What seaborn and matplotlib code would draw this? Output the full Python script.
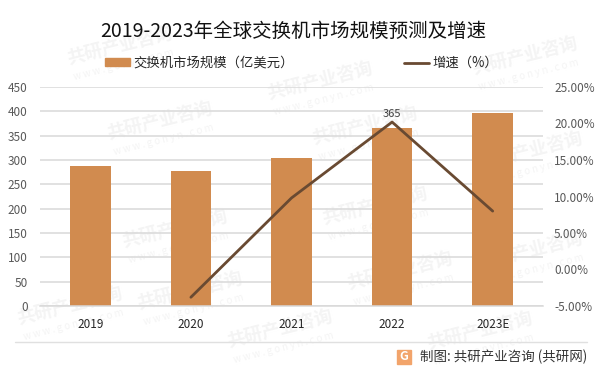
# -*- coding: utf-8 -*-
import pandas as pd
import matplotlib
matplotlib.use('Agg')
import matplotlib.pyplot as plt
from matplotlib.lines import Line2D
from matplotlib.patches import Patch, Rectangle
import seaborn as sns

years = ['2019', '2020', '2021', '2022', '2023E']
market_size = [287, 277, 304, 365, 396]
growth = [None, -3.8, 9.8, 20.2, 8.0]
left_ticks = [0, 50, 100, 150, 200, 250, 300, 350, 400, 450]
right_ticks = [-5, 0, 5, 10, 15, 20, 25]

title = '2019-2023年全球交换机市场规模预测及增速'
bar_label = '交换机市场规模（亿美元）'
line_label = '增速（%）'
source = '制图: 共研产业咨询 (共研网)'

sns.set_theme(style='white')
plt.rcParams['font.family'] = ['Noto Sans CJK SC', 'DejaVu Sans']

W, H = 600, 373
BAR_COLOR = '#D18B4F'
LINE_COLOR = '#694A32'
GRID_COLOR = '#D9D9D9'
MARK_COLOR = '#F4F4F4'

df = pd.DataFrame({'year': years, 'size': market_size, 'growth': growth})
df['pos'] = df.index

fig = plt.figure(figsize=(W / 100, H / 100), dpi=100, facecolor='white')


# pixel coords from the top left corner -> figure fraction
def px(x, y):
    return x / W, 1 - y / H


# watermark first so it sits below the chart
for x, y in [(120, 45), (320, 80), (525, 55), (160, 120), (365, 125),
             (530, 150), (175, 228), (375, 205), (530, 250), (70, 305),
             (190, 290), (400, 270), (280, 328), (480, 330)]:
    fig.text(*px(x, y), '共研产业咨询', fontsize=13, fontweight='bold', color=MARK_COLOR,
             rotation=14, ha='center', va='center', zorder=-1)
    fig.text(*px(x + 4, y + 20), 'w w w . g o n y n . c o m', fontsize=7, color=MARK_COLOR,
             rotation=14, ha='center', va='center', zorder=-1)

ax = fig.add_axes([40 / W, 1 - 306 / H, 503 / W, 219 / H])
ax.patch.set_alpha(0)

sns.barplot(data=df, x='pos', y='size', color=BAR_COLOR, saturation=1, width=0.405,
            linewidth=0, ax=ax, zorder=2)
ax.set_xlim(-0.5, 4.5)
ax.set_ylim(0, 450)
ax.set_yticks(left_ticks)
ax.set_xticks(df['pos'])
ax.set_xticklabels(years)
ax.set_xlabel('')
ax.set_ylabel('')
ax.yaxis.grid(True, color=GRID_COLOR, linewidth=1.1)
ax.set_axisbelow(True)
ax.tick_params(axis='y', length=0, pad=9, labelsize=8.5, labelcolor='#595959')
ax.tick_params(axis='x', length=0, pad=9, labelsize=8.5, labelcolor='#262626')
for s in ['top', 'left', 'right']:
    ax.spines[s].set_visible(False)
ax.spines['bottom'].set_color(GRID_COLOR)
ax.spines['bottom'].set_linewidth(1.1)

ax2 = ax.twinx()
ax2.patch.set_alpha(0)
sns.lineplot(data=df.dropna(subset=['growth']), x='pos', y='growth', color=LINE_COLOR,
             linewidth=2, estimator=None, ax=ax2, zorder=3)
ax2.set_ylim(-5, 25)
ax2.set_yticks(right_ticks)
ax2.set_yticklabels([f'{v:.2f}%' for v in right_ticks])
ax2.set_ylabel('')
ax2.tick_params(axis='y', length=0, pad=8, labelsize=8.5, labelcolor='#595959')
ax2.grid(False)
for s in ax2.spines.values():
    s.set_visible(False)

ax2.annotate(str(market_size[3]), (3, growth[3]), xytext=(0, 2), textcoords='offset points',
             ha='center', va='bottom', fontsize=8, color='#404040')

fig.text(*px(293, 31), title, fontsize=14, color='#111111', ha='center', va='center')

leg = fig.legend(handles=[Patch(color=BAR_COLOR, label=bar_label),
                          Line2D([], [], color=LINE_COLOR, linewidth=2, label=line_label)],
                 loc='center left', bbox_to_anchor=px(105, 63), ncol=2, frameon=False, fontsize=9.6,
                 handlelength=1.9, handleheight=0.5, handletextpad=0.25, columnspacing=8.2,
                 labelcolor='#262626', borderpad=0, borderaxespad=0)

# footer
fig.add_artist(Line2D([15 / W, 587 / W], [1 - 342 / H] * 2, color='#E0E0E0', linewidth=1))
fig.text(*px(420, 357), source, fontsize=9.7, color='#333333', ha='left', va='center')
x0, y0 = px(397, 364)
fig.add_artist(Rectangle((x0, y0), 14 / W, 14 / H, color='#F2A46B', transform=fig.transFigure))
fig.text(*px(404, 357), 'G', fontsize=9, fontweight='bold', color='white', ha='center', va='center')

fig.savefig('out.png', dpi=100)
